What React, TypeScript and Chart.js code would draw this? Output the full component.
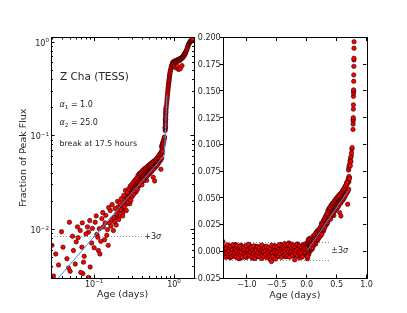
import React, { useEffect, useRef } from "react";
import { Chart, registerables } from "chart.js";
Chart.register(...registerables);

const W = 407;
const H = 313;
const FAM = '"DejaVu Sans", "Liberation Sans", sans-serif';
const INK = "#262626";
const POINT_FILL = "#ff0000";
const POINT_EDGE = "#1a0000";
const FIT_COLOR = "#3d8fd6";

// ---------------- data ----------------
// Pre-outburst baseline (age <= 0), two interleaved cadences
const preAge = [
  -1.40, -1.39, -1.38, -1.37, -1.36, -1.35, -1.34, -1.33, -1.32, -1.31,
  -1.30, -1.29, -1.28, -1.27, -1.26, -1.25, -1.24, -1.23, -1.22, -1.21,
  -1.20, -1.19, -1.18, -1.17, -1.16, -1.15, -1.14, -1.13, -1.12, -1.11,
  -1.10, -1.09, -1.08, -1.07, -1.06, -1.05, -1.04, -1.03, -1.02, -1.01,
  -1.00, -0.99, -0.98, -0.97, -0.96, -0.95, -0.94, -0.93, -0.92, -0.91,
  -0.90, -0.89, -0.88, -0.87, -0.86, -0.85, -0.84, -0.83, -0.82, -0.81,
  -0.80, -0.79, -0.78, -0.77, -0.76, -0.75, -0.74, -0.73, -0.72, -0.71,
  -0.70, -0.69, -0.68, -0.67, -0.66, -0.65, -0.64, -0.63, -0.62, -0.61,
  -0.60, -0.59, -0.58, -0.57, -0.56, -0.55, -0.54, -0.53, -0.52, -0.51,
  -0.50, -0.49, -0.48, -0.47, -0.46, -0.45, -0.44, -0.43, -0.42, -0.41,
  -0.40, -0.39, -0.38, -0.37, -0.36, -0.35, -0.34, -0.33, -0.32, -0.31,
  -0.30, -0.29, -0.28, -0.27, -0.26, -0.25, -0.24, -0.23, -0.22, -0.21,
  -0.20, -0.19, -0.18, -0.17, -0.16, -0.15, -0.14, -0.13, -0.12, -0.11,
  -0.10, -0.09, -0.08, -0.07, -0.06, -0.05, -0.04, -0.03, -0.02, -0.01,
];
const preFlux = [
  0.0090, -0.0021, 0.0015, -0.0040, 0.0032, 0.0004, -0.0052, 0.0026, -0.0013, 0.0051,
  -0.0033, 0.0009, -0.0060, 0.0038, -0.0007, 0.0020, -0.0046, 0.0012, -0.0028, 0.0044,
  -0.0010, 0.0063, -0.0055, 0.0002, 0.0029, -0.0036, 0.0017, -0.0070, 0.0034, -0.0005,
  0.0056, -0.0024, 0.0008, -0.0049, 0.0023, -0.0016, 0.0041, -0.0030, 0.0000, -0.0058,
  0.0030, -0.0019, 0.0014, -0.0042, 0.0060, -0.0009, 0.0025, -0.0037, 0.0006, -0.0064,
  0.0036, -0.0022, 0.0019, -0.0003, 0.0048, -0.0044, 0.0005, -0.0027, 0.0022, -0.0050,
  0.0011, -0.0014, 0.0039, -0.0034, 0.0003, -0.0068, 0.0027, -0.0008, 0.0046, -0.0029,
  0.0007, -0.0047, 0.0021, -0.0012, 0.0033, -0.0054, 0.0001, -0.0031, 0.0016, -0.0076,
  0.0024, -0.0096, -0.0017, 0.0031, -0.0041, 0.0009, -0.0025, 0.0052, -0.0006, -0.0056,
  0.0018, -0.0032, 0.0040, -0.0011, 0.0026, -0.0048, 0.0004, 0.0064, -0.0020, 0.0013,
  -0.0038, 0.0037, -0.0004, 0.0072, -0.0051, 0.0020, -0.0015, 0.0055, -0.0026, 0.0008,
  0.0078, -0.0039, 0.0010, 0.0043, -0.0018, 0.0067, -0.0002, 0.0028, -0.0043, 0.0035,
  -0.0080, 0.0015, 0.0050, -0.0023, 0.0006, 0.0069, -0.0035, 0.0024, -0.0062, 0.0042,
  0.0002, -0.0019, 0.0032, -0.0040, 0.0061, 0.0009, 0.0027, -0.0024, 0.0045, 0.0003,
];
const pre2Age = [
  -1.395, -1.385, -1.375, -1.365, -1.355, -1.345, -1.335, -1.325, -1.315, -1.305,
  -1.295, -1.285, -1.275, -1.265, -1.255, -1.245, -1.235, -1.225, -1.215, -1.205,
  -1.195, -1.185, -1.175, -1.165, -1.155, -1.145, -1.135, -1.125, -1.115, -1.105,
  -1.095, -1.085, -1.075, -1.065, -1.055, -1.045, -1.035, -1.025, -1.015, -1.005,
  -0.995, -0.985, -0.975, -0.965, -0.955, -0.945, -0.935, -0.925, -0.915, -0.905,
  -0.895, -0.885, -0.875, -0.865, -0.855, -0.845, -0.835, -0.825, -0.815, -0.805,
  -0.795, -0.785, -0.775, -0.765, -0.755, -0.745, -0.735, -0.725, -0.715, -0.705,
  -0.695, -0.685, -0.675, -0.665, -0.655, -0.645, -0.635, -0.625, -0.615, -0.605,
  -0.595, -0.585, -0.575, -0.565, -0.555, -0.545, -0.535, -0.525, -0.515, -0.505,
  -0.495, -0.485, -0.475, -0.465, -0.455, -0.445, -0.435, -0.425, -0.415, -0.405,
  -0.395, -0.385, -0.375, -0.365, -0.355, -0.345, -0.335, -0.325, -0.315, -0.305,
  -0.295, -0.285, -0.275, -0.265, -0.255, -0.245, -0.235, -0.225, -0.215, -0.205,
  -0.195, -0.185, -0.175, -0.165, -0.155, -0.145, -0.135, -0.125, -0.115, -0.105,
  -0.095, -0.085, -0.075, -0.065, -0.055, -0.045, -0.035, -0.025, -0.015, -0.005,
];
const pre2Flux = [
  -0.0008, 0.0042, -0.0031, 0.0019, -0.0056, 0.0027, -0.0015, 0.0059, -0.0043, 0.0006,
  0.0033, -0.0026, 0.0048, -0.0009, -0.0051, 0.0014, 0.0061, -0.0037, 0.0002, -0.0018,
  0.0021, -0.0045, 0.0007, 0.0053, -0.0022, -0.0063, 0.0030, -0.0004, 0.0045, -0.0033,
  -0.0011, 0.0026, -0.0059, 0.0009, 0.0040, -0.0028, 0.0016, -0.0048, 0.0055, -0.0002,
  -0.0035, 0.0012, 0.0066, -0.0017, -0.0041, 0.0029, -0.0006, 0.0038, -0.0053, 0.0010,
  -0.0024, 0.0050, -0.0005, -0.0067, 0.0023, 0.0008, -0.0039, 0.0044, -0.0013, 0.0020,
  -0.0050, 0.0035, -0.0020, 0.0004, 0.0058, -0.0036, 0.0015, -0.0007, -0.0046, 0.0031,
  0.0005, -0.0029, 0.0047, -0.0060, 0.0018, -0.0010, 0.0036, -0.0040, 0.0009, 0.0025,
  -0.0030, 0.0056, -0.0016, -0.0052, 0.0028, -0.0003, 0.0041, -0.0073, 0.0011, -0.0021,
  0.0039, -0.0008, -0.0044, 0.0017, 0.0062, -0.0025, 0.0003, -0.0057, 0.0024, 0.0046,
  -0.0012, 0.0032, -0.0034, 0.0000, 0.0054, -0.0023, 0.0019, -0.0049, 0.0065, -0.0001,
  0.0022, -0.0055, 0.0049, -0.0014, 0.0006, 0.0034, -0.0038, 0.0057, -0.0009, 0.0013,
  0.0043, -0.0027, 0.0008, 0.0063, -0.0042, 0.0026, -0.0010, 0.0051, -0.0032, 0.0004,
  -0.0020, 0.0037, -0.0053, 0.0012, 0.0048, -0.0006, 0.0029, 0.0070, -0.0015, 0.0052,
];

// Early rise (0 < age < 0.72), two interleaved cadences
const riseAge = [
  0.004, 0.008, 0.012, 0.016, 0.020, 0.024, 0.028, 0.0296, 0.031, 0.034,
  0.0358, 0.038, 0.0407, 0.043, 0.0456, 0.0478, 0.050, 0.052, 0.0536, 0.056,
  0.0596, 0.0618, 0.064, 0.0668, 0.0702, 0.0722, 0.0735, 0.077, 0.0824, 0.0849,
  0.0891, 0.093, 0.097, 0.103, 0.108, 0.111, 0.113, 0.118, 0.125, 0.130,
  0.135, 0.140, 0.144, 0.150, 0.155, 0.159, 0.165, 0.174, 0.180, 0.186,
  0.192, 0.200, 0.205, 0.212, 0.222, 0.226, 0.231, 0.238, 0.244, 0.250,
  0.256, 0.262, 0.268, 0.274, 0.280, 0.285, 0.290, 0.296, 0.302, 0.310,
  0.316, 0.322, 0.328, 0.334, 0.341, 0.346, 0.352, 0.358, 0.364, 0.370,
  0.376, 0.382, 0.388, 0.394, 0.400, 0.406, 0.413, 0.420, 0.427, 0.434,
  0.441, 0.448, 0.455, 0.462, 0.469, 0.477, 0.484, 0.492, 0.500, 0.508,
  0.517, 0.526, 0.535, 0.544, 0.550, 0.556, 0.565, 0.572, 0.578, 0.586,
  0.594, 0.600, 0.607, 0.615, 0.622, 0.630, 0.635, 0.642, 0.650, 0.656,
  0.662, 0.668, 0.675, 0.685, 0.690, 0.698, 0.705, 0.712,
];
const riseFlux = [
  -0.0040, 0.0060, -0.0070, 0.0020, 0.0090, -0.0020, 0.0040, 0.0068, 0.0032, -0.0030,
  0.0042, 0.0015, 0.0065, -0.0010, 0.0049, 0.0039, 0.0036, 0.0008, 0.0085, 0.0025,
  0.0074, 0.0107, 0.0018, 0.0098, 0.0065, 0.0034, 0.0045, 0.0012, 0.0107, 0.0094,
  0.0040, 0.0072, 0.0026, 0.0120, 0.0089, 0.0083, 0.0060, 0.0055, 0.0131, 0.0107,
  0.0078, 0.0142, 0.0087, 0.0068, 0.0118, 0.0160, 0.0128, 0.0098, 0.0120, 0.0135,
  0.0148, 0.0174, 0.0158, 0.0140, 0.0181, 0.0166, 0.0154, 0.0195, 0.0222, 0.0204,
  0.0188, 0.0215, 0.0241, 0.0226, 0.0189, 0.0247, 0.0232, 0.0262, 0.0244, 0.0262,
  0.0285, 0.0270, 0.0298, 0.0252, 0.0308, 0.0290, 0.0318, 0.0362, 0.0300, 0.0334,
  0.0350, 0.0312, 0.0366, 0.0321, 0.0345, 0.0372, 0.0393, 0.0355, 0.0378, 0.0340,
  0.0402, 0.0384, 0.0335, 0.0412, 0.0395, 0.0428, 0.0405, 0.0440, 0.0418, 0.0452,
  0.0430, 0.0483, 0.0460, 0.0476, 0.0362, 0.0495, 0.0470, 0.0330, 0.0510, 0.0492,
  0.0525, 0.0505, 0.0540, 0.0520, 0.0555, 0.0535, 0.0590, 0.0570, 0.0600, 0.0582,
  0.0615, 0.0640, 0.0625, 0.0440, 0.0655, 0.0668, 0.0650, 0.0690,
];
const rise2Age = [
  0.006, 0.014, 0.022, 0.026, 0.033, 0.039, 0.046, 0.049, 0.055, 0.058,
  0.063, 0.068, 0.071, 0.075, 0.079, 0.085, 0.088, 0.095, 0.100, 0.106,
  0.116, 0.121, 0.128, 0.137, 0.147, 0.152, 0.162, 0.168, 0.177, 0.183,
  0.189, 0.196, 0.203, 0.209, 0.216, 0.219, 0.228, 0.235, 0.241, 0.247,
  0.253, 0.259, 0.265, 0.271, 0.277, 0.283, 0.288, 0.293, 0.299, 0.306,
  0.313, 0.319, 0.325, 0.331, 0.338, 0.344, 0.349, 0.355, 0.361, 0.367,
  0.373, 0.379, 0.385, 0.391, 0.397, 0.403, 0.410, 0.416, 0.423, 0.430,
  0.437, 0.444, 0.451, 0.458, 0.465, 0.473, 0.480, 0.488, 0.496, 0.504,
  0.512, 0.521, 0.530, 0.539, 0.547, 0.560, 0.569, 0.582, 0.590, 0.597,
  0.604, 0.611, 0.619, 0.626, 0.638, 0.646, 0.653, 0.665, 0.672, 0.680,
  0.688, 0.695, 0.702, 0.708,
];
const rise2Flux = [
  0.0030, -0.0050, 0.0070, 0.0110, 0.0055, 0.0095, 0.0028, 0.0120, 0.0060, 0.0043,
  0.0082, 0.0035, 0.0118, 0.0052, 0.0090, 0.0031, 0.0125, 0.0103, 0.0064, 0.0140,
  0.0102, 0.0075, 0.0152, 0.0118, 0.0100, 0.0172, 0.0109, 0.0185, 0.0135, 0.0168,
  0.0112, 0.0200, 0.0128, 0.0192, 0.0163, 0.0214, 0.0140, 0.0232, 0.0176, 0.0262,
  0.0160, 0.0250, 0.0198, 0.0272, 0.0210, 0.0290, 0.0205, 0.0300, 0.0225, 0.0315,
  0.0238, 0.0330, 0.0260, 0.0342, 0.0275, 0.0355, 0.0268, 0.0380, 0.0290, 0.0395,
  0.0300, 0.0402, 0.0318, 0.0410, 0.0300, 0.0425, 0.0330, 0.0435, 0.0342, 0.0448,
  0.0360, 0.0452, 0.0368, 0.0465, 0.0375, 0.0478, 0.0388, 0.0490, 0.0398, 0.0500,
  0.0408, 0.0512, 0.0420, 0.0525, 0.0440, 0.0538, 0.0452, 0.0548, 0.0470, 0.0562,
  0.0480, 0.0575, 0.0492, 0.0590, 0.0510, 0.0612, 0.0528, 0.0630, 0.0545, 0.0650,
  0.0560, 0.0678, 0.0580, 0.0700,
];

// Steep outburst rise
const burstAge = [
  0.700, 0.705, 0.710, 0.715, 0.720, 0.725, 0.730, 0.735, 0.740, 0.745,
  0.750, 0.755, 0.760, 0.775, 0.776, 0.777, 0.778, 0.779, 0.780, 0.781,
  0.782, 0.783, 0.784, 0.785, 0.786, 0.787, 0.788, 0.789, 0.790, 0.791,
  0.792, 0.800, 0.810, 0.815, 0.820, 0.825, 0.830, 0.835, 0.840, 0.845,
  0.850, 0.855, 0.860, 0.865, 0.870, 0.875, 0.880, 0.885, 0.890, 0.900,
  0.910, 0.920, 0.930, 0.940,
];
const burstFlux = [
  0.0760, 0.0780, 0.0800, 0.0680, 0.0820, 0.0850, 0.0800, 0.0875, 0.0840, 0.0890,
  0.0920, 0.0957, 0.0970, 0.1140, 0.1190, 0.1220, 0.1235, 0.1250, 0.1330, 0.1370,
  0.1450, 0.1480, 0.1500, 0.1510, 0.1590, 0.1650, 0.1730, 0.1790, 0.1806, 0.1900,
  0.1960, 0.2050, 0.2200, 0.2350, 0.2500, 0.2650, 0.2800, 0.2950, 0.3100, 0.3250,
  0.3400, 0.3550, 0.3700, 0.3850, 0.4000, 0.4200, 0.4350, 0.4500, 0.4700, 0.4900,
  0.5100, 0.5300, 0.5500, 0.5650,
];

// Plateau and final rise to peak
const peakAge = [
  0.95, 0.96, 0.97, 0.98, 0.99, 1.00, 1.01, 1.02, 1.03, 1.04,
  1.05, 1.06, 1.07, 1.08, 1.09, 1.10, 1.11, 1.12, 1.13, 1.14,
  1.15, 1.16, 1.17, 1.18, 1.19, 1.20, 1.21, 1.22, 1.23, 1.24,
  1.25, 1.26, 1.27, 1.28, 1.29, 1.30, 1.31, 1.32, 1.33, 1.34,
  1.35, 1.36, 1.37, 1.38, 1.39, 1.40, 1.42, 1.44, 1.46, 1.48,
  1.50, 1.52, 1.54, 1.56, 1.58, 1.60, 1.62, 1.64, 1.66, 1.68,
  1.70, 1.72,
];
const peakFlux = [
  0.58, 0.60, 0.59, 0.61, 0.60, 0.62, 0.55, 0.63, 0.61, 0.62,
  0.53, 0.63, 0.61, 0.64, 0.62, 0.55, 0.64, 0.63, 0.65, 0.51,
  0.64, 0.66, 0.63, 0.65, 0.66, 0.52, 0.65, 0.67, 0.66, 0.68,
  0.67, 0.56, 0.69, 0.68, 0.70, 0.69, 0.71, 0.72, 0.71, 0.73,
  0.74, 0.73, 0.75, 0.77, 0.76, 0.78, 0.80, 0.82, 0.85, 0.88,
  0.91, 0.94, 0.96, 0.98, 1.00, 1.01, 1.03, 1.02, 1.05, 1.04,
  1.07, 1.09,
];

// Broken power-law fit, as drawn in each panel
const leftFitAge = [0.035, 0.76, 0.815];
const leftFitFlux = [0.003, 0.062, 0.27];
const rightFitAge = [0.0, 0.70];
const rightFitFlux = [0.0, 0.057];

// 3-sigma level and annotation extents
const SIGMA3 = 0.0084;
const LEFT_SIGMA_END = 0.409;
const LEFT_SIGMA_LABEL_AT = 0.424;
const RIGHT_SIGMA_END = 0.383;
const RIGHT_SIGMA_LABEL_AT = 0.41;

// Axis ranges and ticks
const LEFT_X_RANGE = [0.0288, 1.78];
const LEFT_Y_RANGE = [0.00305, 1.117];
const LEFT_X_TICKS = [0.1, 1];
const LEFT_X_EXP = ["\u22121", "0"];
const LEFT_Y_TICKS = [1, 0.1, 0.01];
const LEFT_Y_EXP = ["0", "\u22121", "\u22122"];
const RIGHT_X_RANGE = [-1.4, 1.0];
const RIGHT_Y_RANGE = [-0.025, 0.2];
const RIGHT_X_TICKS = [-1.0, -0.5, 0.0, 0.5, 1.0];
const RIGHT_Y_TICKS = [-0.025, 0.0, 0.025, 0.05, 0.075, 0.1, 0.125, 0.15, 0.175, 0.2];

// Text
const TITLE = "Z Cha (TESS)";
const ALPHA1 = "1.0";
const ALPHA2 = "25.0";
const BREAK_TEXT = "break at 17.5 hours";
const X_TITLE = "Age (days)";
const Y_TITLE = "Fraction of Peak Flux";

// ---------------- helpers ----------------
const allAge = [...preAge, ...pre2Age, ...riseAge, ...rise2Age, ...burstAge, ...peakAge];
const allFlux = [...preFlux, ...pre2Flux, ...riseFlux, ...rise2Flux, ...burstFlux, ...peakFlux];
const allPoints = allAge.map((t, i) => ({ x: t, y: allFlux[i] }));
const logPoints = allPoints.filter((p) => p.x > 0 && p.y > 0);

type Run = { t: string; it?: boolean; sub?: boolean; sup?: boolean };

function drawRuns(ctx: CanvasRenderingContext2D, runs: Run[], x: number, y: number, size: number, align: "left" | "center" | "right" = "left") {
  const fontFor = (r: Run) => `${r.it ? "italic " : ""}${r.sub || r.sup ? size * 0.7 : size}px ${FAM}`;
  let total = 0;
  for (const r of runs) {
    ctx.font = fontFor(r);
    total += ctx.measureText(r.t).width;
  }
  let cx = align === "left" ? x : align === "center" ? x - total / 2 : x - total;
  ctx.textAlign = "left";
  ctx.textBaseline = "alphabetic";
  for (const r of runs) {
    ctx.font = fontFor(r);
    const dy = r.sub ? size * 0.22 : r.sup ? -size * 0.42 : 0;
    ctx.fillText(r.t, cx, y + dy);
    cx += ctx.measureText(r.t).width;
  }
}

function seg(ctx: CanvasRenderingContext2D, x1: number, y1: number, x2: number, y2: number) {
  ctx.beginPath();
  ctx.moveTo(x1, y1);
  ctx.lineTo(x2, y2);
  ctx.stroke();
}

const snap = (v: number) => Math.round(v - 0.5) + 0.5;

function frame(ctx: CanvasRenderingContext2D, a: any) {
  ctx.save();
  ctx.strokeStyle = "#000";
  ctx.lineWidth = 1;
  ctx.strokeRect(snap(a.left), snap(a.top), Math.round(a.right - a.left), Math.round(a.bottom - a.top));
  ctx.restore();
}

function logTicks(min: number, max: number) {
  const out: { v: number; major: boolean }[] = [];
  for (let k = Math.floor(Math.log10(min)); k <= Math.ceil(Math.log10(max)); k++) {
    for (let m = 1; m <= 9; m++) {
      const v = m * Math.pow(10, k);
      if (v >= min && v <= max) out.push({ v, major: m === 1 });
    }
  }
  return out;
}

const fmtNum = (v: number, d: number) => (v < -1e-9 ? "\u2212" : "") + Math.abs(v).toFixed(d);

// ---------------- plugins ----------------
const leftDecor = {
  id: "leftDecor",
  beforeDatasetsDraw(chart: any) {
    const { ctx, chartArea: a, scales } = chart;
    const py = scales.y.getPixelForValue(SIGMA3);
    ctx.save();
    ctx.strokeStyle = "#8a8a8a";
    ctx.lineWidth = 1;
    ctx.setLineDash([1, 2]);
    seg(ctx, a.left, snap(py), scales.x.getPixelForValue(LEFT_SIGMA_END), snap(py));
    ctx.restore();
  },
  afterDraw(chart: any) {
    const { ctx, chartArea: a, scales } = chart;
    const xs = scales.x;
    const ys = scales.y;
    frame(ctx, a);
    ctx.save();
    ctx.strokeStyle = "#000";
    ctx.lineWidth = 1;
    for (const t of logTicks(LEFT_X_RANGE[0], LEFT_X_RANGE[1])) {
      const px = snap(xs.getPixelForValue(t.v));
      const len = t.major ? 3.5 : 2;
      seg(ctx, px, a.bottom, px, a.bottom - len);
      seg(ctx, px, a.top, px, a.top + len);
    }
    for (const t of logTicks(LEFT_Y_RANGE[0], LEFT_Y_RANGE[1])) {
      const py = snap(ys.getPixelForValue(t.v));
      const len = t.major ? 3.5 : 2;
      seg(ctx, a.left, py, a.left + len, py);
      seg(ctx, a.right, py, a.right - len, py);
    }
    ctx.fillStyle = INK;
    LEFT_X_TICKS.forEach((v, i) => {
      drawRuns(ctx, [{ t: "10" }, { t: LEFT_X_EXP[i], sup: true }], xs.getPixelForValue(v), 286.7, 8, "center");
    });
    LEFT_Y_TICKS.forEach((v, i) => {
      drawRuns(ctx, [{ t: "10" }, { t: LEFT_Y_EXP[i], sup: true }], a.left - 2, ys.getPixelForValue(v) + 3.6, 8, "right");
    });
    ctx.font = `9.5px ${FAM}`;
    ctx.textAlign = "center";
    ctx.textBaseline = "alphabetic";
    ctx.fillText(X_TITLE, (a.left + a.right) / 2, 297.3);
    ctx.save();
    ctx.translate(25.5, (a.top + a.bottom) / 2);
    ctx.rotate(-Math.PI / 2);
    ctx.fillText(Y_TITLE, 0, 0);
    ctx.restore();
    ctx.textAlign = "left";
    ctx.font = `10.5px ${FAM}`;
    ctx.fillText(TITLE, a.left + 9, a.top + 42);
    drawRuns(ctx, [{ t: "\u03b1", it: true }, { t: "1", sub: true }, { t: " = " + ALPHA1 }], a.left + 8.5, a.top + 69.8, 8);
    drawRuns(ctx, [{ t: "\u03b1", it: true }, { t: "2", sub: true }, { t: " = " + ALPHA2 }], a.left + 8.5, a.top + 87.5, 8);
    ctx.font = `7.9px ${FAM}`;
    ctx.textAlign = "left";
    ctx.fillText(BREAK_TEXT, a.left + 8.5, a.top + 108.2);
    drawRuns(ctx, [{ t: "+3" }, { t: "\u03c3", it: true }], xs.getPixelForValue(LEFT_SIGMA_LABEL_AT), ys.getPixelForValue(SIGMA3) + 2.7, 8);
    ctx.restore();
  },
};

const rightDecor = {
  id: "rightDecor",
  beforeDatasetsDraw(chart: any) {
    const { ctx, chartArea: a, scales } = chart;
    ctx.save();
    ctx.strokeStyle = "#8a8a8a";
    ctx.lineWidth = 1;
    ctx.setLineDash([1, 2]);
    const xe = scales.x.getPixelForValue(RIGHT_SIGMA_END);
    for (const v of [SIGMA3, -SIGMA3]) {
      const py = snap(scales.y.getPixelForValue(v));
      seg(ctx, a.left, py, xe, py);
    }
    ctx.restore();
  },
  afterDraw(chart: any) {
    const { ctx, chartArea: a, scales } = chart;
    const xs = scales.x;
    const ys = scales.y;
    frame(ctx, a);
    ctx.save();
    ctx.strokeStyle = "#000";
    ctx.lineWidth = 1;
    for (const v of RIGHT_X_TICKS) {
      const px = snap(xs.getPixelForValue(v));
      seg(ctx, px, a.bottom, px, a.bottom - 3.5);
      seg(ctx, px, a.top, px, a.top + 3.5);
    }
    for (const v of RIGHT_Y_TICKS) {
      const py = snap(ys.getPixelForValue(v));
      seg(ctx, a.left, py, a.left - 3, py);
      seg(ctx, a.right, py, a.right - 3.5, py);
    }
    ctx.fillStyle = INK;
    ctx.font = `8px ${FAM}`;
    ctx.textAlign = "center";
    ctx.textBaseline = "alphabetic";
    for (const v of RIGHT_X_TICKS) {
      ctx.fillText(fmtNum(v, 1), xs.getPixelForValue(v), 286.7);
    }
    ctx.save();
    ctx.beginPath();
    ctx.rect(195, 0, W - 195, H);
    ctx.clip();
    ctx.textAlign = "right";
    for (const v of RIGHT_Y_TICKS) {
      ctx.fillText(fmtNum(v, 3), a.left - 2.3, ys.getPixelForValue(v) + 2.9);
    }
    ctx.restore();
    ctx.font = `9.5px ${FAM}`;
    ctx.textAlign = "center";
    ctx.fillText(X_TITLE, (a.left + a.right) / 2, 297.5);
    drawRuns(ctx, [{ t: "\u00b13" }, { t: "\u03c3", it: true }], xs.getPixelForValue(RIGHT_SIGMA_LABEL_AT), ys.getPixelForValue(0) + 1.4, 8);
    ctx.restore();
  },
};

function pointSet(data: { x: number; y: number }[]) {
  return {
    data,
    showLine: false,
    pointRadius: 2.2,
    pointHoverRadius: 2.2,
    backgroundColor: POINT_FILL,
    pointBackgroundColor: POINT_FILL,
    borderColor: POINT_EDGE,
    pointBorderColor: POINT_EDGE,
    pointBorderWidth: 0.6,
    borderWidth: 0.6,
    clip: 0,
    order: 2,
  };
}

function fitSet(ages: number[], flux: number[]) {
  return {
    data: ages.map((t, i) => ({ x: t, y: flux[i] })),
    showLine: true,
    pointRadius: 0,
    borderColor: FIT_COLOR,
    borderWidth: 1,
    fill: false,
    tension: 0,
    clip: 0,
    order: 1,
  };
}

function baseOptions(box: { left: number; right: number; top: number; bottom: number }, scales: any) {
  return {
    animation: false as const,
    responsive: false,
    devicePixelRatio: 1,
    events: [] as any[],
    layout: { padding: { left: box.left, right: W - box.right, top: box.top, bottom: H - box.bottom } },
    plugins: { legend: { display: false }, tooltip: { enabled: false } },
    scales,
  };
}

export default function App() {
  const leftRef = useRef<HTMLCanvasElement>(null);
  const rightRef = useRef<HTMLCanvasElement>(null);

  useEffect(() => {
    const left = new Chart(leftRef.current!, {
      type: "scatter",
      data: { datasets: [fitSet(leftFitAge, leftFitFlux) as any, pointSet(logPoints) as any] },
      options: baseOptions({ left: 51, right: 194, top: 37.5, bottom: 278 }, {
        x: { type: "logarithmic", min: LEFT_X_RANGE[0], max: LEFT_X_RANGE[1], display: false },
        y: { type: "logarithmic", min: LEFT_Y_RANGE[0], max: LEFT_Y_RANGE[1], display: false },
      }) as any,
      plugins: [leftDecor],
    });
    const right = new Chart(rightRef.current!, {
      type: "scatter",
      data: { datasets: [fitSet(rightFitAge, rightFitFlux) as any, pointSet(allPoints) as any] },
      options: baseOptions({ left: 223, right: 366.5, top: 37.5, bottom: 278 }, {
        x: { type: "linear", min: RIGHT_X_RANGE[0], max: RIGHT_X_RANGE[1], display: false },
        y: { type: "linear", min: RIGHT_Y_RANGE[0], max: RIGHT_Y_RANGE[1], display: false },
      }) as any,
      plugins: [rightDecor],
    });
    return () => {
      left.destroy();
      right.destroy();
    };
  }, []);

  return (
    <div style={{ position: "absolute", left: 0, top: 0, width: W, height: H, background: "#fff" }}>
      <canvas ref={leftRef} width={W} height={H} style={{ position: "absolute", left: 0, top: 0 }} />
      <canvas ref={rightRef} width={W} height={H} style={{ position: "absolute", left: 0, top: 0 }} />
    </div>
  );
}
